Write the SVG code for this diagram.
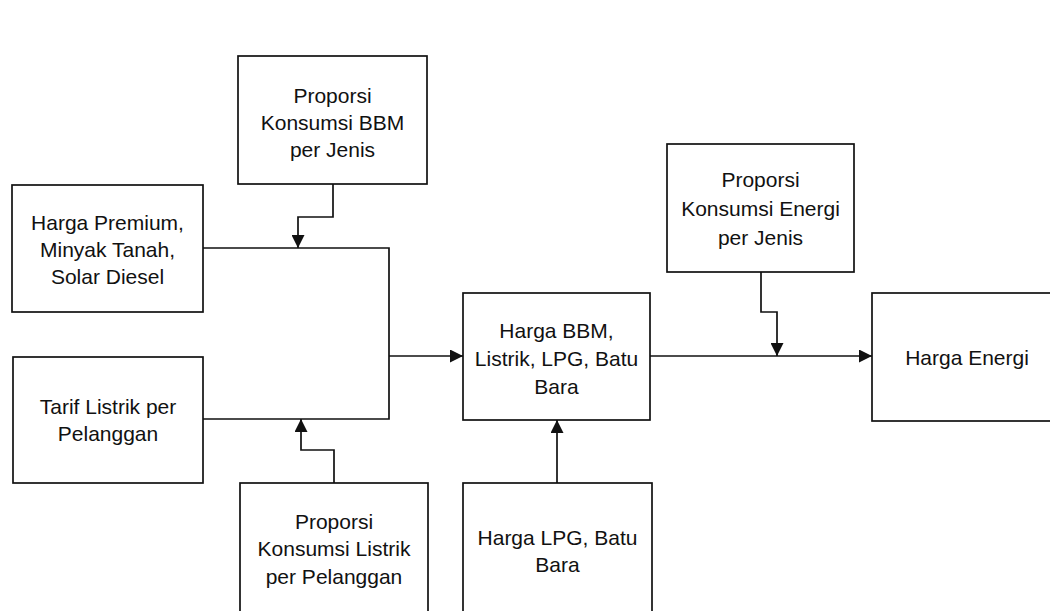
<svg xmlns="http://www.w3.org/2000/svg" width="1050" height="611" viewBox="0 0 1050 611">
  <style>
    .box { fill: none; stroke: #111; stroke-width: 1.7; }
    .lbl { font-family: "Liberation Sans", Arial, sans-serif; font-size: 21px; fill: #111; text-anchor: middle; dominant-baseline: central; }
    .wire { fill: none; stroke: #111; stroke-width: 1.7; }
  </style>
  <defs>
    <marker id="arr" viewBox="0 0 10 10" refX="10" refY="5" markerWidth="13" markerHeight="13" markerUnits="userSpaceOnUse" orient="auto">
      <path d="M0,0 L10,5 L0,10 z" fill="#111"/>
    </marker>
  </defs>
  <rect width="1050" height="611" fill="#fff"/>

  <g id="node-proporsi-bbm">
    <rect class="box" x="238" y="56" width="189" height="128"/>
    <text class="lbl" x="332.5" y="95">Proporsi</text>
    <text class="lbl" x="332.5" y="122">Konsumsi BBM</text>
    <text class="lbl" x="332.5" y="149">per Jenis</text>
  </g>

  <g id="node-harga-premium">
    <rect class="box" x="12" y="185" width="191" height="127"/>
    <text class="lbl" x="107.5" y="222">Harga Premium,</text>
    <text class="lbl" x="107.5" y="249">Minyak Tanah,</text>
    <text class="lbl" x="107.5" y="276">Solar Diesel</text>
  </g>

  <g id="node-tarif-listrik">
    <rect class="box" x="13" y="357" width="190" height="126"/>
    <text class="lbl" x="108" y="406">Tarif Listrik per</text>
    <text class="lbl" x="108" y="433">Pelanggan</text>
  </g>

  <g id="node-merge">
    <path class="wire" d="M203,248 H389 V419 H203"/>
  </g>

  <g id="node-harga-bbm">
    <rect class="box" x="463" y="293" width="187" height="127"/>
    <text class="lbl" x="556.5" y="330">Harga BBM,</text>
    <text class="lbl" x="556.5" y="358">Listrik, LPG, Batu</text>
    <text class="lbl" x="556.5" y="386">Bara</text>
  </g>

  <g id="node-proporsi-energi">
    <rect class="box" x="667" y="144" width="187" height="128"/>
    <text class="lbl" x="760.5" y="179">Proporsi</text>
    <text class="lbl" x="760.5" y="208">Konsumsi Energi</text>
    <text class="lbl" x="760.5" y="237">per Jenis</text>
  </g>

  <g id="node-harga-energi">
    <rect class="box" x="872" y="293" width="190" height="128"/>
    <text class="lbl" x="967" y="357">Harga Energi</text>
  </g>

  <g id="node-proporsi-listrik">
    <rect class="box" x="240" y="483" width="188" height="140"/>
    <text class="lbl" x="334" y="521">Proporsi</text>
    <text class="lbl" x="334" y="548">Konsumsi Listrik</text>
    <text class="lbl" x="334" y="576">per Pelanggan</text>
  </g>

  <g id="node-harga-lpg">
    <rect class="box" x="463" y="483" width="189" height="140"/>
    <text class="lbl" x="557.5" y="537">Harga LPG, Batu</text>
    <text class="lbl" x="557.5" y="564">Bara</text>
  </g>

  <g id="connectors">
    <path class="wire" d="M333,184 V217 H298 V248" marker-end="url(#arr)"/>
    <path class="wire" d="M334,483 V450 H301 V419" marker-end="url(#arr)"/>
    <path class="wire" d="M389,356 H463" marker-end="url(#arr)"/>
    <path class="wire" d="M557,483 V420" marker-end="url(#arr)"/>
    <path class="wire" d="M650,356 H872" marker-end="url(#arr)"/>
    <path class="wire" d="M761,272 V312 H777 V356" marker-end="url(#arr)"/>
  </g>
</svg>
